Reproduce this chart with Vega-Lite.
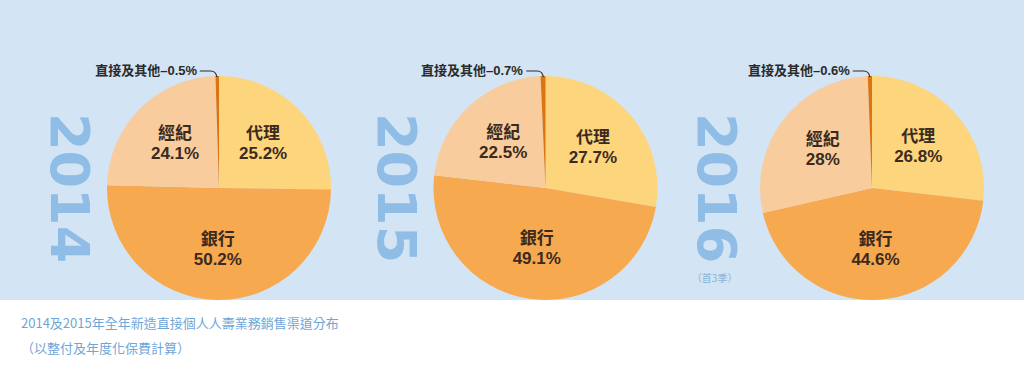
{
  "$schema": "https://vega.github.io/schema/vega-lite/v6.json",
  "width": 1024,
  "height": 300,
  "padding": 0,
  "background": "white",
  "view": {"fill": "#d3e4f4", "stroke": null},
  "title": {
    "text": ["2014及2015年全年新造直接個人人壽業務銷售渠道分布", "（以整付及年度化保費計算）"],
    "orient": "bottom",
    "anchor": "start",
    "dx": 21,
    "offset": 6,
    "font": "Noto Sans CJK TC",
    "fontSize": 13,
    "fontWeight": "normal",
    "color": "#6ea6d8",
    "lineHeight": 25
  },
  "datasets": {
    "shares": [
      {"year": 2014, "channel": "代理", "share": 0.252, "order": 1, "note": ""},
      {"year": 2014, "channel": "銀行", "share": 0.502, "order": 2, "note": ""},
      {"year": 2014, "channel": "經紀", "share": 0.241, "order": 3, "note": ""},
      {"year": 2014, "channel": "直接及其他", "share": 0.005, "order": 4, "note": "直接及其他–0.5%"},
      {"year": 2015, "channel": "代理", "share": 0.277, "order": 1, "note": ""},
      {"year": 2015, "channel": "銀行", "share": 0.491, "order": 2, "note": ""},
      {"year": 2015, "channel": "經紀", "share": 0.225, "order": 3, "note": ""},
      {"year": 2015, "channel": "直接及其他", "share": 0.007, "order": 4, "note": "直接及其他–0.7%"},
      {"year": 2016, "channel": "代理", "share": 0.268, "order": 1, "note": ""},
      {"year": 2016, "channel": "銀行", "share": 0.446, "order": 2, "note": ""},
      {"year": 2016, "channel": "經紀", "share": 0.28, "order": 3, "note": ""},
      {"year": 2016, "channel": "直接及其他", "share": 0.006, "order": 4, "note": "直接及其他–0.6%"}
    ]
  },
  "data": {"name": "shares"},
  "encoding": {
    "x": {"field": "year", "type": "ordinal", "scale": {"type": "point", "domain": [2014, 2015, 2016], "range": [219, 872], "padding": 0}, "axis": null},
    "y": {"value": 188}
  },
  "layer": [
    {
      "transform": [{"filter": "datum.year == 2014"}],
      "encoding": {
        "theta": {"field": "share", "type": "quantitative", "stack": true, "scale": {"domain": [0, 1]}},
        "order": {"field": "order", "type": "quantitative"},
        "detail": {"field": "channel"}
      },
      "layer": [
        {"mark": {"type": "arc", "outerRadius": 112}, "encoding": {"color": {"field": "channel", "type": "nominal", "scale": {"domain": ["代理", "銀行", "經紀", "直接及其他"], "range": ["#fdd57c", "#f6a94e", "#f8cc9d", "#db7411"]}, "legend": null}}},
        {"mark": {"type": "text", "radius": 62, "dy": -10, "font": "Liberation Sans, Noto Sans CJK TC", "fontSize": 17, "fontWeight": "bold", "color": "#3b2a1e"}, "encoding": {"text": {"condition": {"test": "datum.share > 0.05", "field": "channel"}, "value": ""}}},
        {"mark": {"type": "text", "radius": 62, "dy": 10, "font": "Liberation Sans, Noto Sans CJK TC", "fontSize": 17, "fontWeight": "bold", "color": "#3b2a1e"}, "encoding": {"text": {"condition": {"test": "datum.share > 0.05", "field": "share", "format": ".1~%"}, "value": ""}}},
        {"mark": {"type": "text", "radius": 117, "dx": -20, "align": "right", "baseline": "middle", "font": "Liberation Sans, Noto Sans CJK TC", "fontSize": 13, "fontWeight": "bold", "color": "#2a2a2a"}, "encoding": {"text": {"field": "note"}}}
      ]
    },
    {
      "transform": [{"filter": "datum.year == 2015"}],
      "encoding": {
        "theta": {"field": "share", "type": "quantitative", "stack": true, "scale": {"domain": [0, 1]}},
        "order": {"field": "order", "type": "quantitative"},
        "detail": {"field": "channel"}
      },
      "layer": [
        {"mark": {"type": "arc", "outerRadius": 112}, "encoding": {"color": {"field": "channel", "type": "nominal", "scale": {"domain": ["代理", "銀行", "經紀", "直接及其他"], "range": ["#fdd57c", "#f6a94e", "#f8cc9d", "#db7411"]}, "legend": null}}},
        {"mark": {"type": "text", "radius": 62, "dy": -10, "font": "Liberation Sans, Noto Sans CJK TC", "fontSize": 17, "fontWeight": "bold", "color": "#3b2a1e"}, "encoding": {"text": {"condition": {"test": "datum.share > 0.05", "field": "channel"}, "value": ""}}},
        {"mark": {"type": "text", "radius": 62, "dy": 10, "font": "Liberation Sans, Noto Sans CJK TC", "fontSize": 17, "fontWeight": "bold", "color": "#3b2a1e"}, "encoding": {"text": {"condition": {"test": "datum.share > 0.05", "field": "share", "format": ".1~%"}, "value": ""}}},
        {"mark": {"type": "text", "radius": 117, "dx": -20, "align": "right", "baseline": "middle", "font": "Liberation Sans, Noto Sans CJK TC", "fontSize": 13, "fontWeight": "bold", "color": "#2a2a2a"}, "encoding": {"text": {"field": "note"}}}
      ]
    },
    {
      "transform": [{"filter": "datum.year == 2016"}],
      "encoding": {
        "theta": {"field": "share", "type": "quantitative", "stack": true, "scale": {"domain": [0, 1]}},
        "order": {"field": "order", "type": "quantitative"},
        "detail": {"field": "channel"}
      },
      "layer": [
        {"mark": {"type": "arc", "outerRadius": 112}, "encoding": {"color": {"field": "channel", "type": "nominal", "scale": {"domain": ["代理", "銀行", "經紀", "直接及其他"], "range": ["#fdd57c", "#f6a94e", "#f8cc9d", "#db7411"]}, "legend": null}}},
        {"mark": {"type": "text", "radius": 62, "dy": -10, "font": "Liberation Sans, Noto Sans CJK TC", "fontSize": 17, "fontWeight": "bold", "color": "#3b2a1e"}, "encoding": {"text": {"condition": {"test": "datum.share > 0.05", "field": "channel"}, "value": ""}}},
        {"mark": {"type": "text", "radius": 62, "dy": 10, "font": "Liberation Sans, Noto Sans CJK TC", "fontSize": 17, "fontWeight": "bold", "color": "#3b2a1e"}, "encoding": {"text": {"condition": {"test": "datum.share > 0.05", "field": "share", "format": ".1~%"}, "value": ""}}},
        {"mark": {"type": "text", "radius": 117, "dx": -20, "align": "right", "baseline": "middle", "font": "Liberation Sans, Noto Sans CJK TC", "fontSize": 13, "fontWeight": "bold", "color": "#2a2a2a"}, "encoding": {"text": {"field": "note"}}}
      ]
    },
    {
      "transform": [{"filter": "datum.order == 4"}],
      "mark": {"type": "point", "shape": "M -0.16 -0.975 L -0.07 -0.975 Q -0.025 -0.975 -0.018 -0.925", "size": 57600, "filled": false, "opacity": 1, "stroke": "#2a2a2a", "strokeWidth": 1.2}
    },
    {
      "transform": [{"filter": "datum.order == 1 && datum.year < 2016"}],
      "mark": {"type": "text", "radius": 152, "theta": 4.712, "angle": 90, "align": "center", "baseline": "middle", "font": "DejaVu Sans", "fontSize": 54, "fontWeight": "bold", "color": "#8fbde5"},
      "encoding": {"text": {"field": "year", "type": "nominal"}}
    },
    {
      "transform": [{"filter": "datum.order == 1 && datum.year == 2016"}],
      "mark": {"type": "text", "radius": 158, "theta": 4.712, "angle": 90, "align": "center", "baseline": "middle", "font": "DejaVu Sans", "fontSize": 54, "fontWeight": "bold", "color": "#8fbde5"},
      "encoding": {"text": {"field": "year", "type": "nominal"}}
    },
    {
      "transform": [{"filter": "datum.order == 1 && datum.year == 2016"}],
      "mark": {"type": "text", "radius": 182, "theta": 4.186, "align": "center", "baseline": "middle", "font": "Noto Sans CJK TC", "fontSize": 10, "color": "#8ab4d8", "text": "（首3季）"}
    }
  ]
}
